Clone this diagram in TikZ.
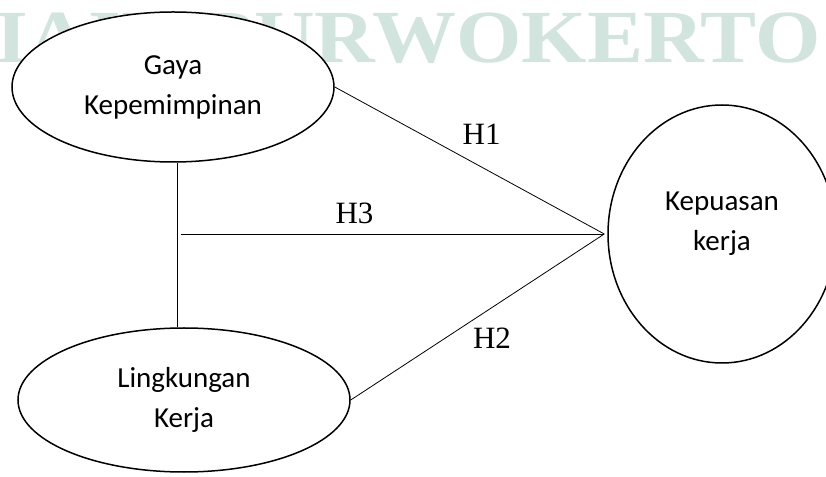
\documentclass[tikz,border=0pt]{standalone}
\usepackage{fontspec}
\setmainfont{Liberation Serif}
\newfontfamily\calibri{Carlito}
\usetikzlibrary{positioning}
\usetikzlibrary{shapes.geometric}
\definecolor{wmark}{RGB}{209,228,221}
\tikzset{var/.style = {draw, ellipse, line width=1.5pt, fill=white, inner sep=0pt,
                       align=center, font=\calibri\fontsize{29}{40}\selectfont},
         vartext/.style = {inner sep=0pt, align=center, font=\calibri\fontsize{29}{40}\selectfont},
         link/.style = {line width=0.8pt},
         hyp/.style = {inner sep=0pt, font=\fontsize{31}{37}\selectfont}}

\begin{document}
\begin{tikzpicture}[x=1pt, y=1pt]
    \useasboundingbox (0, 0) rectangle (826, 476);
    \node [anchor=base east, inner sep=0pt, text=wmark, font=\bfseries\fontsize{75}{75}\selectfont] (wm) at (821, 413) {\scalebox{1.12}[1]{IAIN PURWOKERTO}};
    \node [var, minimum width=322pt, minimum height=150pt] (gaya) at (173, 389) {Gaya\\Kepemimpinan};
    \node [var, minimum width=332pt, minimum height=144pt] (ling) at (184, 76) {Lingkungan\\Kerja};
    \node [var, minimum width=228pt, minimum height=258pt] (kep) at (722, 242) {};
    \node [vartext] (keptext) at ([yshift=10pt]kep.center) {Kepuasan\\kerja};
    \coordinate (meet) at ([xshift=-3pt]kep.west);
    \coordinate (split) at ([xshift=8pt]gaya.south |- meet);
    \draw [link] ([xshift=4pt]gaya.south) -- ([xshift=4pt]gaya.south |- ling.north);
    \draw [link] (gaya.east) -- node [hyp, pos=0.545, above=22pt] (h1) {H1} (meet);
    \draw [link] (split) -- node [hyp, pos=0.41, above=10pt] (h3) {H3} (meet);
    \draw [link] (ling.east) -- node [hyp, pos=0.557, below=20pt] (h2) {H2} (meet);
\end{tikzpicture}
\end{document}
